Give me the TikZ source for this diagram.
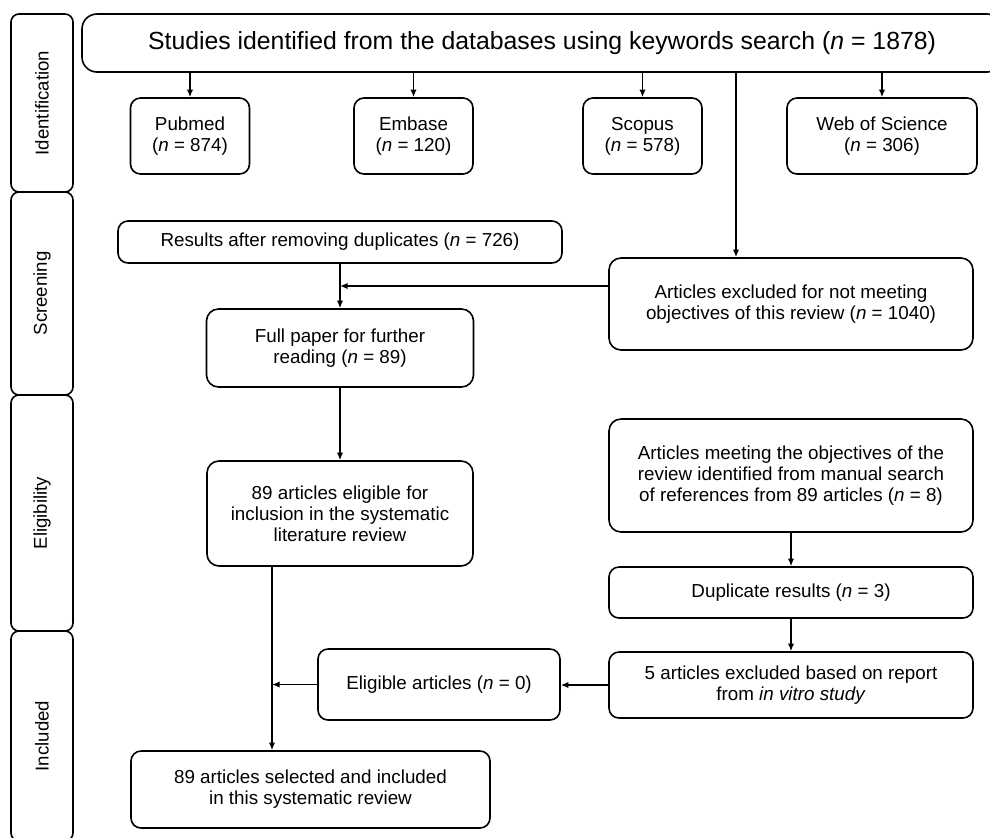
\documentclass[tikz,border=0pt]{standalone}
\usepackage{fontspec}
\setmainfont{Liberation Sans}
\usetikzlibrary{arrows.meta, positioning, calc}

\begin{document}
\begin{tikzpicture}[
    x=0.5pt, y=-0.5pt,
    box/.style={draw, rounded corners=5pt, line width=0.8pt, align=center, inner sep=0pt, font=\fontsize{9.4}{10.5}\selectfont},
    stage/.style={draw, rounded corners=4pt, line width=0.8pt, rotate=90, minimum height=31pt, inner sep=0pt, font=\fontsize{9.3}{10.5}\selectfont},
    arr/.style={line width=0.7pt, -{Latex[length=3.8pt,width=3.2pt]}}
  ]
    \useasboundingbox (0,0) rectangle (990,837);

    % stages on the left
    \node[stage, minimum width=89pt] (ident) at (42,103) {Identification};
    \node[stage, minimum width=101.5pt] (screen) at (42,293.5) {Screening};
    \node[stage, minimum width=118pt] (eligib) at (42,513) {Eligibility};
    \node[stage, minimum width=105pt] (incl) at (42,736) {Included};

    % identification
    \node[box, rounded corners=7.5pt, minimum width=460pt, minimum height=29pt, font=\fontsize{12.4}{14}\selectfont] (top) at (542,43)
      {Studies identified from the databases using keywords search (\textit{n} = 1878)};
    \foreach \name/\x/\w/\db/\num in {pubmed/190/59.5/Pubmed/874, embase/413.5/59.5/Embase/120, scopus/642.5/59.5/Scopus/578, wos/882/95/Web of Science/306} {
      \node[box, minimum width=\w pt, minimum height=38pt] (\name) at (\x,136) {\db\\(\textit{n} = \num)};
      \draw[arr] (\name.north |- top.south) -- (\name.north);
    }

    % screening
    \node[box, minimum width=222pt, minimum height=21pt] (results) at (340,242) {Results after removing duplicates (\textit{n} = 726)};
    \node[box, rounded corners=6pt, minimum width=182pt, minimum height=46pt] (excl) at (791,304)
      {Articles excluded for not meeting\\objectives of this review (\textit{n} = 1040)};
    \node[box, rounded corners=6pt, minimum width=133.5pt, minimum height=39pt] (fullpaper) at (340,348)
      {Full paper for further\\reading (\textit{n} = 89)};

    % eligibility
    \node[box, rounded corners=6pt, minimum width=133pt, minimum height=52.5pt] (elig) at (340,513.5)
      {89 articles eligible for\\inclusion in the systematic\\literature review};
    \node[box, rounded corners=6pt, minimum width=182pt, minimum height=56.5pt] (manual) at (791,475.5)
      {Articles meeting the objectives of the\\review identified from manual search\\of references from 89 articles (\textit{n} = 8)};
    \node[box, minimum width=182pt, minimum height=25.5pt] (dup) at (791,592.5) {Duplicate results (\textit{n} = 3)};

    % included
    \node[box, minimum width=182pt, minimum height=33pt] (fivex) at (791,685)
      {5 articles excluded based on report\\from \textit{in vitro study}};
    \node[box, minimum width=121pt, minimum height=35.5pt] (eligart) at (439,684.5) {Eligible articles (\textit{n} = 0)};
    \node[box, minimum width=179.5pt, minimum height=38.5pt] (final) at (310.5,789.5)
      {89 articles selected and included\\in this systematic review};

    % connectors
    \coordinate (drop) at ([xshift=-27.5pt]excl.north);
    \draw[arr] (drop |- top.south) -- (drop);
    \draw[arr] (results.south) -- (fullpaper.north);
    \coordinate (exin) at ([yshift=9pt]excl.west);
    \draw[arr] (exin) -- (exin -| results.south);
    \draw[arr] (fullpaper.south) -- (elig.north);
    \coordinate (down) at ([xshift=-34pt]elig.south);
    \draw[arr] (down) -- (down |- final.north);
    \draw[arr] (eligart.west) -- (eligart.west -| down);
    \draw[arr] (manual.south) -- (dup.north);
    \draw[arr] (dup.south) -- (fivex.north);
    \draw[arr] (fivex.west) -- (fivex.west -| eligart.east);
  \end{tikzpicture}
\end{document}
